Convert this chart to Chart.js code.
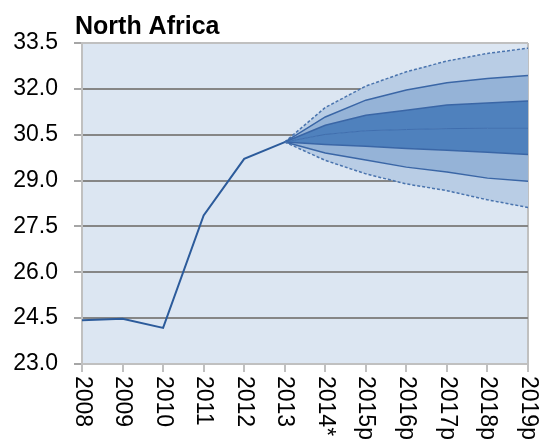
<!DOCTYPE html>
<html>
<head>
<meta charset="utf-8">
<script src="https://cdn.jsdelivr.net/npm/chart.js@4.4.1/dist/chart.umd.min.js"></script>
<style>
  body { margin: 0; background: #fff; }
  .chart { width: 542px; height: 444px; }
</style>
</head>
<body>
<div class="chart"><canvas id="myChart"></canvas></div>
<script>
// categories
const years = ["2008", "2009", "2010", "2011", "2012", "2013",
  "2014*", "2015p", "2016p", "2017p", "2018p", "2019p"];
// y axis ticks
const yTicks = [23.0, 24.5, 26.0, 27.5, 29.0, 30.5, 32.0, 33.5];

// historical values
const actual = [24.43, 24.48, 24.18, 27.86, 29.71, 30.26,
  null, null, null, null, null, null];

// fan chart bands (2013 onwards), bottom to top
const pad = [null, null, null, null, null];
const outerLow = pad.concat([30.26, 29.66, 29.22, 28.89, 28.67, 28.37, 28.12]);
const midLow = pad.concat([30.26, 29.90, 29.67, 29.44, 29.28, 29.08, 28.98]);
const innerLow = pad.concat([30.26, 30.18, 30.12, 30.05, 29.99, 29.93, 29.85]);
const central = pad.concat([30.26, 30.51, 30.63, 30.67, 30.70, 30.71, 30.71]);
const innerHigh = pad.concat([30.26, 30.81, 31.14, 31.30, 31.47, 31.54, 31.60]);
const midHigh = pad.concat([30.26, 31.08, 31.63, 31.96, 32.20, 32.34, 32.44]);
const outerHigh = pad.concat([30.26, 31.39, 32.09, 32.56, 32.91, 33.16, 33.33]);

const labelFont = "'Liberation Sans', Arial, sans-serif";
const outerColor = "#b9cde5";
const midColor = "#95b3d7";
const innerColor = "#4f81bd";
const edgeColor = "#3a66a6";

// light blue plot area
const plotBg = {
  id: "plotBg",
  afterLayout(chart) {
    // title sits a little left of the plot area
    chart.titleBlock.left = chart.chartArea.left - 7;
  },
  beforeDraw(chart) {
    const { ctx, chartArea: a } = chart;
    ctx.save();
    ctx.fillStyle = "#dce6f2";
    ctx.fillRect(a.left, a.top, a.right - a.left, a.bottom - a.top);
    ctx.restore();
  },
};

// x labels read top to bottom
const xLabels = {
  id: "xLabels",
  afterDraw(chart) {
    const { ctx } = chart;
    const x = chart.scales.x;
    ctx.save();
    ctx.font = "23px " + labelFont;
    ctx.fillStyle = "#000";
    ctx.textAlign = "left";
    ctx.textBaseline = "middle";
    years.forEach((label, i) => {
      ctx.save();
      ctx.translate(x.getPixelForTick(i), x.top + 12);
      ctx.rotate(Math.PI / 2);
      ctx.fillText(label, 0, 0);
      ctx.restore();
    });
    ctx.restore();
  },
};

const band = (data, fill, bg, dashed) => ({
  data: data,
  fill: fill,
  backgroundColor: bg,
  borderColor: dashed ? "#4a74ae" : edgeColor,
  borderWidth: 1.5,
  borderDash: dashed ? [3, 2] : [],
  pointRadius: 0,
  tension: 0,
});

const ctx = document.getElementById("myChart").getContext("2d");
new Chart(ctx, {
  type: "line",
  data: {
    labels: years,
    datasets: [
      {
        label: "North Africa",
        data: actual,
        borderColor: "#2c5b9b",
        borderWidth: 2,
        pointRadius: 0,
        fill: false,
        tension: 0,
      },
      band(outerLow, false, "transparent", true),
      band(midLow, "-1", outerColor, false),
      band(innerLow, "-1", midColor, false),
      Object.assign(band(central, "-1", innerColor, false), { borderWidth: 1, borderColor: "#3f6eae" }),
      band(innerHigh, "-1", innerColor, false),
      band(midHigh, "-1", midColor, false),
      band(outerHigh, "-1", outerColor, true),
    ],
  },
  options: {
    responsive: true,
    maintainAspectRatio: false,
    animation: false,
    layout: { padding: { left: 10, right: 14, top: 0, bottom: 0 } },
    plugins: {
      legend: { display: false },
      tooltip: { enabled: false },
      filler: { drawTime: "beforeDatasetsDraw" },
      title: {
        display: true,
        fullSize: false,
        text: "North Africa",
        align: "start",
        color: "#000",
        font: { family: "'Liberation Sans', Arial, sans-serif", size: 25, weight: "bold", lineHeight: 1.2 },
        padding: { top: 12, bottom: 1 },
      },
    },
    scales: {
      x: {
        offset: false,
        ticks: { display: false },
        grid: {
          drawOnChartArea: true,
          color: (c) => (c.index === years.length - 1 ? "#c0c0c0" : "rgba(0,0,0,0)"),
          tickColor: "#c0c0c0",
          tickLength: 8,
          lineWidth: 2,
        },
        border: { color: "#c0c0c0", width: 2 },
        afterFit: (scale) => { scale.height = 80; },
      },
      y: {
        min: yTicks[0],
        max: yTicks[yTicks.length - 1],
        afterBuildTicks: (scale) => { scale.ticks = yTicks.map((v) => ({ value: v })); },
        ticks: {
          color: "#000",
          padding: 16,
          font: { family: labelFont, size: 23 },
          callback: (v) => Number(v).toFixed(1),
        },
        grid: {
          color: (c) => (c.tick && (c.tick.value === 33.5 || c.tick.value === 23) ? "#c0c0c0" : "#868686"),
          tickColor: "#a6a6a6",
          tickLength: 8,
          lineWidth: 2,
        },
        border: { color: "#c0c0c0", width: 2 },
        afterFit: (scale) => { scale.width = 72; },
      },
    },
  },
  plugins: [plotBg, xLabels],
});
</script>
</body>
</html>
